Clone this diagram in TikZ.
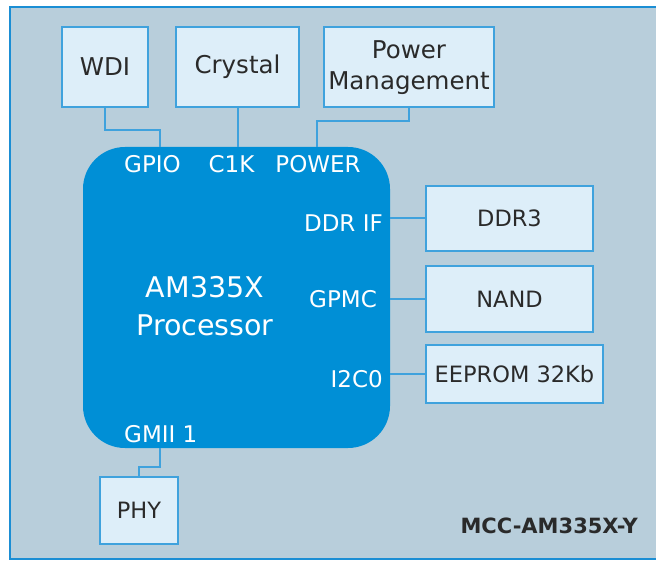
\documentclass[tikz,border=0pt]{standalone}
\usepackage{fontspec}
\setmainfont{DejaVu Sans}

\definecolor{panelbg}{HTML}{B8CEDB}
\definecolor{panelline}{HTML}{1B8ED4}
\definecolor{boxfill}{HTML}{DDEEF9}
\definecolor{boxline}{HTML}{3FA2DD}
\definecolor{cpufill}{HTML}{008FD6}
\definecolor{darktext}{HTML}{2A2A2A}

\begin{document}
\begin{tikzpicture}[x=1pt,y=-1pt,
  part/.style={draw=boxline, fill=boxfill, line width=2pt, text=darktext,
    inner sep=0pt, align=center},
  bigpart/.style={part, font=\fontsize{24.5}{31}\selectfont},
  smallpart/.style={part, font=\fontsize{22.5}{28}\selectfont},
  pinlabel/.style={text=white, inner sep=0pt, font=\fontsize{23}{28}\selectfont},
  wire/.style={draw=boxline, line width=2pt}]
  \useasboundingbox (0,0) rectangle (656,561);
  % Panel
  \fill[white] (0,0) rectangle (656,561);
  \draw[fill=panelbg, draw=panelline, line width=2pt] (10,7) rectangle (670,559);
  % Processor
  \node[fill=cpufill, rounded corners=42pt, minimum width=307pt, minimum height=301pt,
    inner sep=0pt] (cpu) at (236.5,297.5) {};
  \node[text=white, inner sep=0pt, align=center, font=\fontsize{28.5}{38}\selectfont]
    (cpuname) at (205,306) {AM335X\\Processor};
  % Pin labels
  \node[pinlabel, anchor=base] (gpio) at (152.5,173) {GPIO};
  \node[pinlabel, anchor=base] (clk) at (231.5,173) {C1K};
  \node[pinlabel, anchor=base] (pwr) at (318,173) {POWER};
  \node[pinlabel, anchor=base east] (ddrif) at (383,232) {DDR IF};
  \node[pinlabel, anchor=base east] (gpmc) at (377,308) {GPMC};
  \node[pinlabel, anchor=base east] (itwoc) at (383,387) {I2C0};
  \node[pinlabel, anchor=base west] (gmii) at (124,442) {GMII 1};
  \coordinate (gpiopin) at (160,147);
  \coordinate (pwrpin) at (317,147);
  \coordinate (gmiipin) at (160,448);
  % Parts around
  \node[bigpart, minimum width=86pt, minimum height=80pt] (wdi) at (105,67) {WDI};
  \node[bigpart, minimum width=123pt, minimum height=80pt] (crystal) at (237.5,67) {Crystal};
  \node[bigpart, minimum width=170pt, minimum height=80pt] (power) at (409,67.5) {Power\\Management};
  \node[smallpart, minimum width=167pt, minimum height=65pt] (ddr) at (509.5,218.5) {DDR3};
  \node[smallpart, minimum width=167pt, minimum height=66pt] (nand) at (509.5,299) {NAND};
  \node[smallpart, minimum width=177pt, minimum height=58pt] (eeprom) at (514.5,374) {EEPROM 32Kb};
  \node[smallpart, minimum width=78pt, minimum height=67pt] (phy) at (139,510.5) {PHY};
  % Wires
  \draw[wire] (wdi.south) -- ++(0,22) -| (gpiopin);
  \draw[wire] (crystal.south) -- (crystal.south |- cpu.north);
  \draw[wire] (pwrpin) -- ++(0,-26) -| (power.south);
  \draw[wire] (ddr.west) -- (ddr.west -| cpu.east);
  \draw[wire] (nand.west) -- (nand.west -| cpu.east);
  \draw[wire] (eeprom.west) -- (eeprom.west -| cpu.east);
  \draw[wire] (gmiipin) -- ++(0,19) -| (phy.north);
  % Board name
  \node[anchor=base east, inner sep=0pt, text=darktext,
    font=\fontsize{21}{26}\selectfont\bfseries] (board) at (638,533) {MCC-AM335X-Y};
\end{tikzpicture}
\end{document}
